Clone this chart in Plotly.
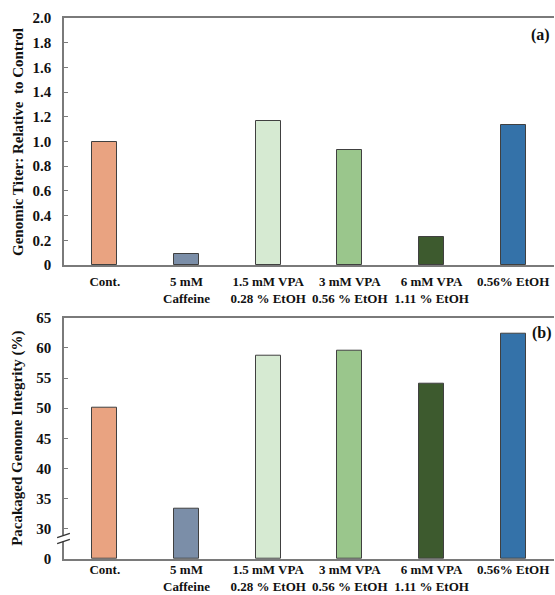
import plotly.graph_objects as go

categories = ["Cont.", "5 mM<br>Caffeine", "1.5 mM VPA<br>0.28 % EtOH",
              "3 mM VPA<br>0.56 % EtOH", "6 mM VPA<br>1.11 % EtOH", "0.56% EtOH"]
titer = [1.0, 0.087, 1.166, 0.93, 0.23, 1.13]
integrity = [50.0, 33.3, 58.7, 59.5, 54.1, 62.4]
colors = ["#E9A381", "#7B8EA8", "#D6EAD2", "#9AC68C", "#3D5A2E", "#3472A9"]

# broken axis: displayed "0" sits at 25 on the internal scale
y2_tickvals = [25, 30, 35, 40, 45, 50, 55, 60, 65]
y2_ticktext = ["0", "30", "35", "40", "45", "50", "55", "60", "65"]
y1_tickvals = [0, 0.2, 0.4, 0.6, 0.8, 1.0, 1.2, 1.4, 1.6, 1.8, 2.0]
y1_ticktext = ["0", "0.2", "0.4", "0.6", "0.8", "1.0", "1.2", "1.4", "1.6", "1.8", "2.0"]

FONT = "Liberation Serif, Times New Roman, serif"
AX = "#7a7a7a"
xpos = list(range(len(categories)))


def bold(labels):
    return ["<b>" + "</b><br><b>".join(s.split("<br>")) + "</b>" for s in labels]


fig = go.Figure()
fig.add_trace(go.Bar(x=xpos, y=titer, marker=dict(color=colors, line=dict(color="#404040", width=1)),
                     width=0.31, xaxis="x", yaxis="y", showlegend=False))
fig.add_trace(go.Bar(x=xpos, y=[v - 25 for v in integrity], base=25,
                     marker=dict(color=colors, line=dict(color="#404040", width=1)),
                     width=0.31, xaxis="x2", yaxis="y2", showlegend=False))

xcommon = dict(range=[-0.5, 5.5], tickmode="array", tickvals=xpos, ticktext=bold(categories),
               showline=True, linecolor=AX, linewidth=1.5, mirror=True, ticks="", tickangle=0,
               showgrid=False, zeroline=False, automargin=False,
               tickfont=dict(family=FONT, size=13, color="#111"))
ycommon = dict(showline=True, linecolor=AX, linewidth=1.5, ticks="inside", ticklen=4,
               tickcolor=AX, tickwidth=1.2, showgrid=False, zeroline=False, automargin=False,
               tickfont=dict(family=FONT, size=15, color="#111"), ticklabelstandoff=8)

fig.update_layout(
    width=555, height=595,
    margin=dict(l=64, r=1, t=18, b=36),
    plot_bgcolor="white", paper_bgcolor="white",
    xaxis=dict(domain=[0, 1], anchor="y", ticklabelstandoff=4, **xcommon),
    yaxis=dict(domain=[0.5434, 1.0], anchor="x", range=[0, 2.0], tickmode="array",
               tickvals=y1_tickvals, ticktext=bold(y1_ticktext), **ycommon),
    xaxis2=dict(domain=[0, 1], anchor="y2", ticklabelstandoff=-2, **xcommon),
    yaxis2=dict(domain=[0, 0.446], anchor="x2", range=[25, 65], tickmode="array",
                tickvals=y2_tickvals, ticktext=bold(y2_ticktext), **ycommon),
    bargap=0,
)

# axis titles
fig.add_annotation(text="<b>Genomic Titer: Relative  to Control</b>", textangle=-90,
                   xref="paper", yref="y domain", x=-0.095, y=0.5, showarrow=False,
                   xanchor="center", yanchor="middle",
                   font=dict(family=FONT, size=15, color="#111"))
fig.add_annotation(text="<b>Pacakaged Genome Integrity (%)</b>", textangle=-90,
                   xref="paper", yref="y2 domain", x=-0.095, y=0.5, showarrow=False,
                   xanchor="center", yanchor="middle",
                   font=dict(family=FONT, size=15, color="#111"))
# panel labels
fig.add_annotation(text="<b>(a)</b>", xref="x domain", yref="y domain", x=0.995, y=0.93,
                   xanchor="right", yanchor="middle", showarrow=False,
                   font=dict(family=FONT, size=16, color="#111"))
fig.add_annotation(text="<b>(b)</b>", xref="x2 domain", yref="y2 domain", x=1.0, y=0.935,
                   xanchor="right", yanchor="middle", showarrow=False,
                   font=dict(family=FONT, size=16, color="#111"))

# axis break marks
fig.add_shape(type="rect", xref="x2 domain", yref="y2", x0=-0.006, x1=0.006, y0=27.9, y1=28.9,
              fillcolor="white", line=dict(width=0), layer="above")
for yb in [28.9, 27.9]:
    fig.add_shape(type="line", xref="x2 domain", yref="y2", x0=-0.014, x1=0.012,
                  y0=yb - 0.35, y1=yb + 0.35, line=dict(color="#333", width=1.2), layer="above")

fig.write_html("out.html", config={"displayModeBar": False},
               post_script="document.body.style.margin='0';document.body.style.overflow='hidden';")
